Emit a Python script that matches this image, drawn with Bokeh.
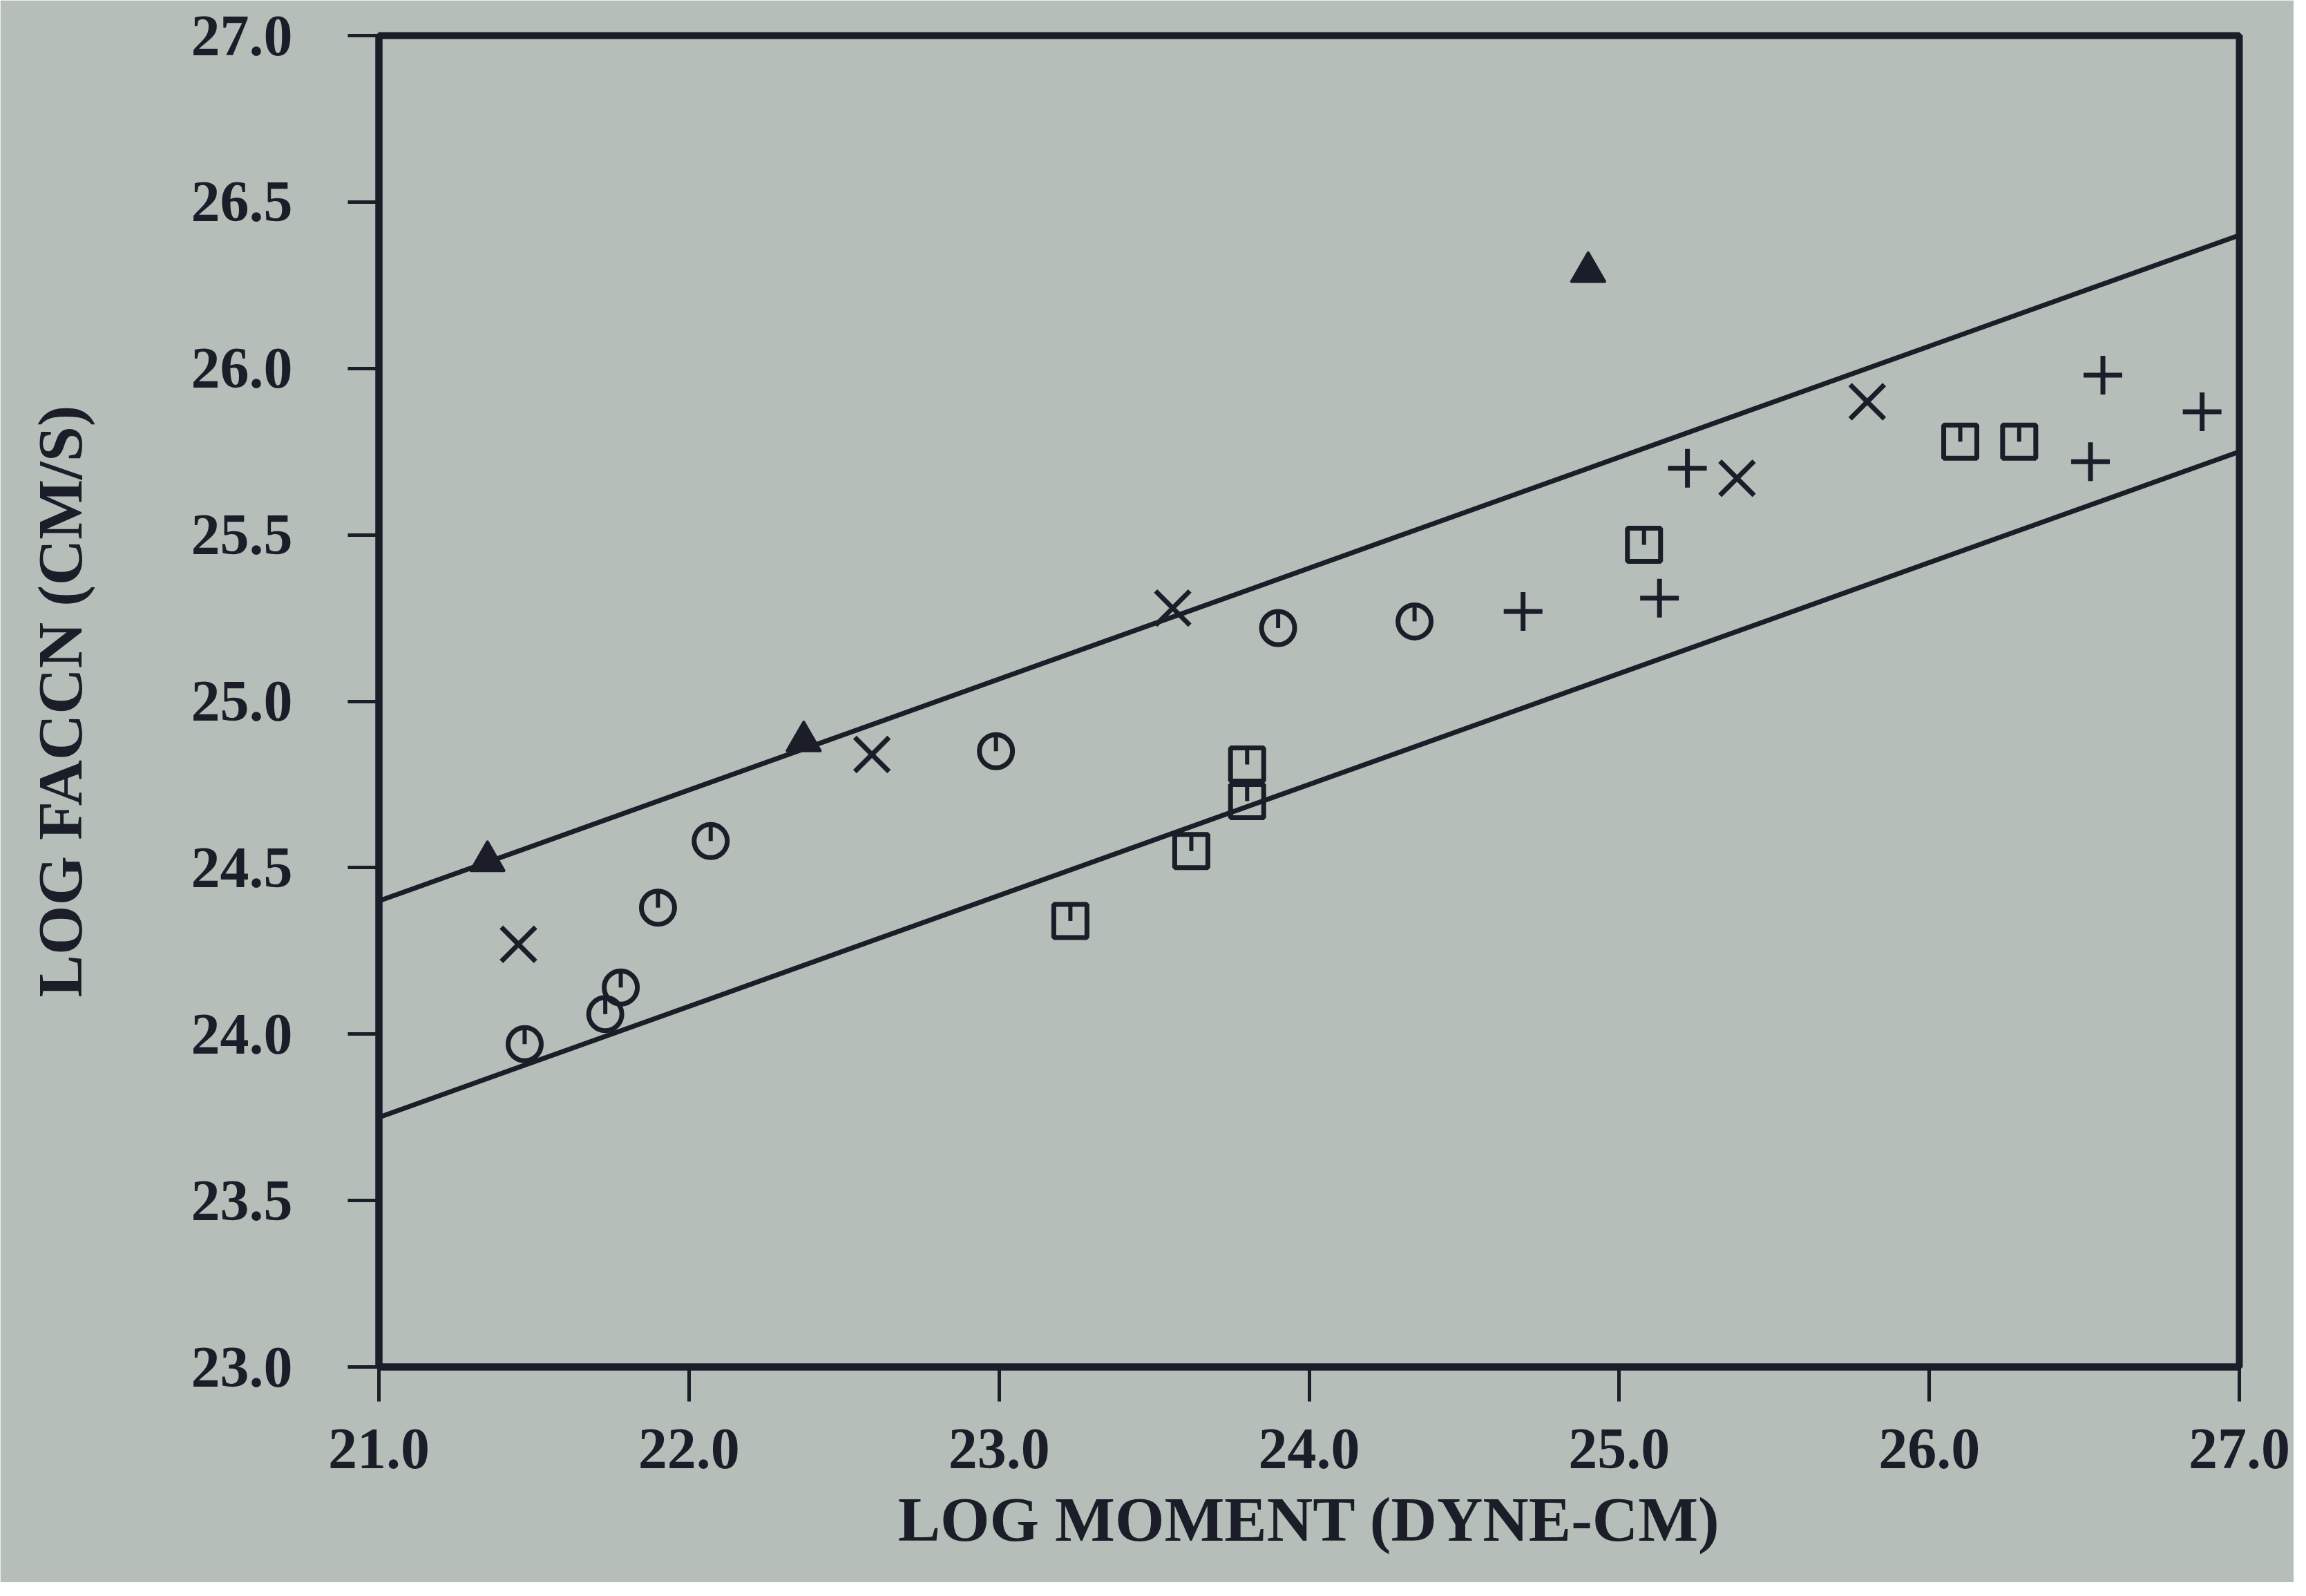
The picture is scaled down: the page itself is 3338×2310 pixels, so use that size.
import numpy as np
from bokeh.plotting import figure
from bokeh.models import FixedTicker, NumeralTickFormatter, Range1d, Title
from bokeh.embed import file_html
from bokeh.resources import INLINE

# ---- data ----
x_ticks = [21.0, 22.0, 23.0, 24.0, 25.0, 26.0, 27.0]
y_ticks = [23.0, 23.5, 24.0, 24.5, 25.0, 25.5, 26.0, 26.5, 27.0]

tri_x = [21.35, 22.37, 24.90]
tri_y = [24.52, 24.88, 26.29]

cross_x = [21.45, 22.59, 23.56, 25.38, 25.80]
cross_y = [24.27, 24.84, 25.28, 25.67, 25.90]

circ_x = [21.47, 21.73, 21.78, 21.90, 22.07, 22.99, 23.90, 24.34]
circ_y = [23.97, 24.06, 24.14, 24.38, 24.58, 24.85, 25.22, 25.24]

sq_x = [23.23, 23.62, 23.80, 23.80, 25.08, 26.10, 26.29]
sq_y = [24.34, 24.55, 24.70, 24.81, 25.47, 25.78, 25.78]

plus_x = [24.69, 25.13, 25.22, 26.56, 26.52, 26.88]
plus_y = [25.27, 25.31, 25.70, 25.98, 25.72, 25.87]

upper_x = [21.0, 27.0]
upper_y = [24.40, 26.40]
lower_x = [21.0, 27.0]
lower_y = [23.75, 25.75]

x_title = "LOG MOMENT (DYNE-CM)"
y_title = "LOG FACCN (CM/S)"

# ---- style ----
INK = "#1b1d28"
BG = "#b6beb9"
SERIF = "Liberation Serif"

p = figure(width=3320, height=2290, output_backend="svg", toolbar_location=None,
           x_range=Range1d(21.0, 27.0), y_range=Range1d(23.0, 27.0),
           min_border_left=548, min_border_right=79, min_border_top=51,
           min_border_bottom=312)

p.background_fill_color = BG
p.border_fill_color = BG
p.outline_line_color = INK
p.outline_line_width = 10
p.grid.visible = False

# lines
p.line(upper_x, upper_y, line_color=INK, line_width=7)
p.line(lower_x, lower_y, line_color=INK, line_width=7)

# markers
p.scatter(tri_x, tri_y, marker="triangle", size=50, fill_color=INK, line_color=INK, line_width=3)
p.scatter(cross_x, cross_y, marker="x", size=70, line_color=INK, line_width=7)
p.scatter(plus_x, plus_y, marker="cross", size=56, line_color=INK, line_width=7)
p.scatter(circ_x, circ_y, marker="circle", size=48, fill_color=None, line_color=INK, line_width=7)
p.scatter(sq_x, sq_y, marker="square", size=48, fill_color=None, line_color=INK, line_width=7)

# small inner tick of circle / square symbols
cx = np.array(circ_x); cy = np.array(circ_y)
sx = np.array(sq_x); sy = np.array(sq_y)
p.segment(cx, cy, cx, cy + 0.05, line_color=INK, line_width=6)
p.segment(sx, sy, sx, sy + 0.05, line_color=INK, line_width=6)

# axes
for ax in (p.xaxis[0], p.yaxis[0]):
    ax.axis_line_color = INK
    ax.axis_line_width = 10
    ax.major_tick_line_color = INK
    ax.major_tick_line_width = 5
    ax.major_tick_in = 0
    ax.minor_tick_line_color = None
    ax.major_label_text_font = SERIF
    ax.major_label_text_font_style = "bold"
    ax.major_label_text_color = INK
    ax.major_label_text_font_size = "84px"
    ax.formatter = NumeralTickFormatter(format="0.0")

p.xaxis[0].ticker = FixedTicker(ticks=x_ticks)
p.yaxis[0].ticker = FixedTicker(ticks=y_ticks)

p.xaxis[0].major_tick_out = 50
p.xaxis[0].major_label_standoff = 40
p.yaxis[0].major_tick_out = 45
p.yaxis[0].major_label_standoff = 80

# y title as the axis label
p.yaxis[0].axis_label = y_title
p.yaxis[0].axis_label_text_font = SERIF
p.yaxis[0].axis_label_text_font_style = "bold"
p.yaxis[0].axis_label_text_font_size = "92px"
p.yaxis[0].axis_label_text_color = INK
p.yaxis[0].axis_label_standoff = 136

# x title as a side annotation
xt = Title(text=x_title, align="center", text_font=SERIF, text_font_style="bold",
           text_font_size="92px", text_color=INK, standoff=36)
p.add_layout(xt, "below")

open("out.html", "w").write(file_html(p, INLINE))
